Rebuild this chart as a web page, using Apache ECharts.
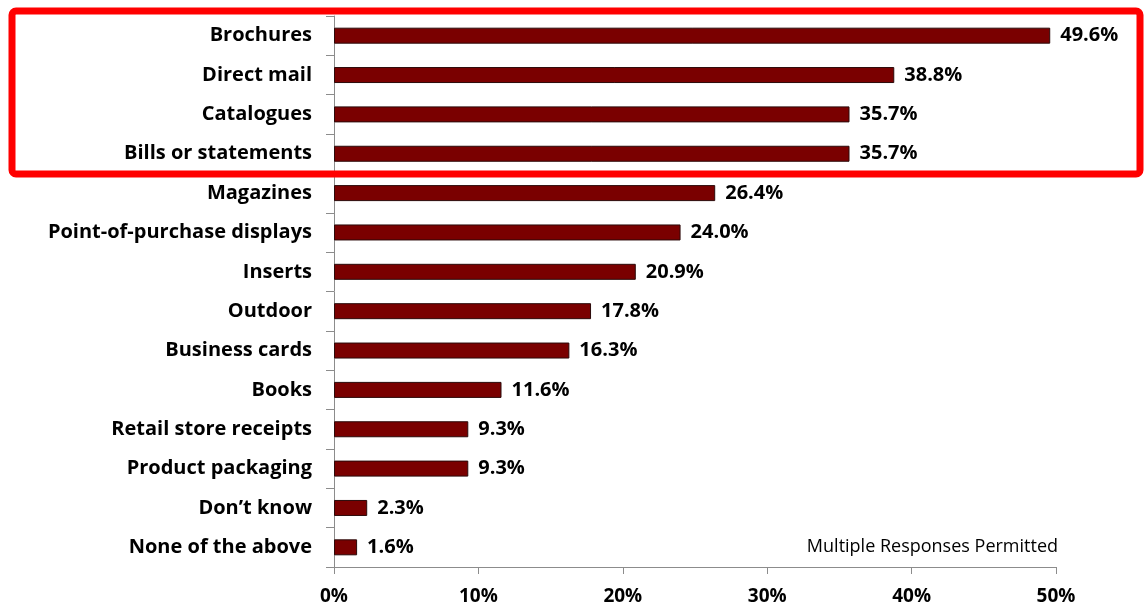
<!DOCTYPE html>
<html>
<head>
<meta charset="utf-8">
<script src="https://cdn.jsdelivr.net/npm/echarts@6/dist/echarts.min.js"></script>
<style>
  html, body { margin: 0; padding: 0; background: #fff; }
  #chart { width: 1144px; height: 610px; }
</style>
</head>
<body>
<div id="chart"></div>
<script>
// Media formats, top to bottom
const categories = [
  'Brochures', 'Direct mail', 'Catalogues', 'Bills or statements', 'Magazines',
  'Point-of-purchase displays', 'Inserts', 'Outdoor', 'Business cards', 'Books',
  'Retail store receipts', 'Product packaging', 'Don\u2019t know', 'None of the above'
];
// Share of respondents (%)
const shares = [49.6, 38.8, 35.7, 35.7, 26.4, 24.0, 20.9, 17.8, 16.3, 11.6, 9.3, 9.3, 2.3, 1.6];
// Value axis ticks (%)
const axisTicks = [0, 10, 20, 30, 40, 50];
const footnote = 'Multiple Responses Permitted';

const FONT = '"Open Sans", Lato, sans-serif';
const chart = echarts.init(document.getElementById('chart'), null, { renderer: 'canvas' });

chart.setOption({
  animation: false,
  backgroundColor: '#ffffff',
  grid: { left: 334, right: 88, top: 16, bottom: 43, containLabel: false },
  xAxis: {
    type: 'value',
    min: axisTicks[0],
    max: axisTicks[axisTicks.length - 1],
    interval: axisTicks[1] - axisTicks[0],
    axisLine: { show: true, lineStyle: { color: '#8c8c8c', width: 1 } },
    axisTick: { show: true, length: 7, lineStyle: { color: '#8c8c8c' } },
    splitLine: { show: false },
    axisLabel: {
      margin: 20,
      formatter: v => v + '%',
      color: '#000', fontFamily: FONT, fontWeight: 'bold', fontSize: 19
    }
  },
  yAxis: {
    type: 'category',
    data: categories,
    inverse: true,
    axisLine: { show: true, lineStyle: { color: '#8c8c8c', width: 1 } },
    axisTick: { show: true, length: 8, lineStyle: { color: '#8c8c8c' } },
    axisLabel: {
      margin: 22,
      color: '#000', fontFamily: FONT, fontWeight: 'bold', fontSize: 20
    }
  },
  series: [{
    type: 'bar',
    data: shares,
    barWidth: 16,
    itemStyle: { color: '#7a0000', borderColor: '#2b0a0a', borderWidth: 1 },
    label: {
      show: true,
      position: 'right',
      distance: 10,
      formatter: p => p.value.toFixed(1) + '%',
      color: '#000', fontFamily: FONT, fontWeight: 'bold', fontSize: 20
    }
  }],
  graphic: [
    {
      type: 'rect',
      shape: { x: 12, y: 11, width: 1128, height: 163, r: 4 },
      style: { fill: null, stroke: '#ff0000', lineWidth: 7 },
      z: 100
    },
    {
      type: 'text',
      x: 1058,
      y: 547,
      style: {
        text: footnote, fill: '#000', font: '18px ' + FONT,
        align: 'right', verticalAlign: 'middle'
      }
    }
  ]
});
</script>
</body>
</html>
